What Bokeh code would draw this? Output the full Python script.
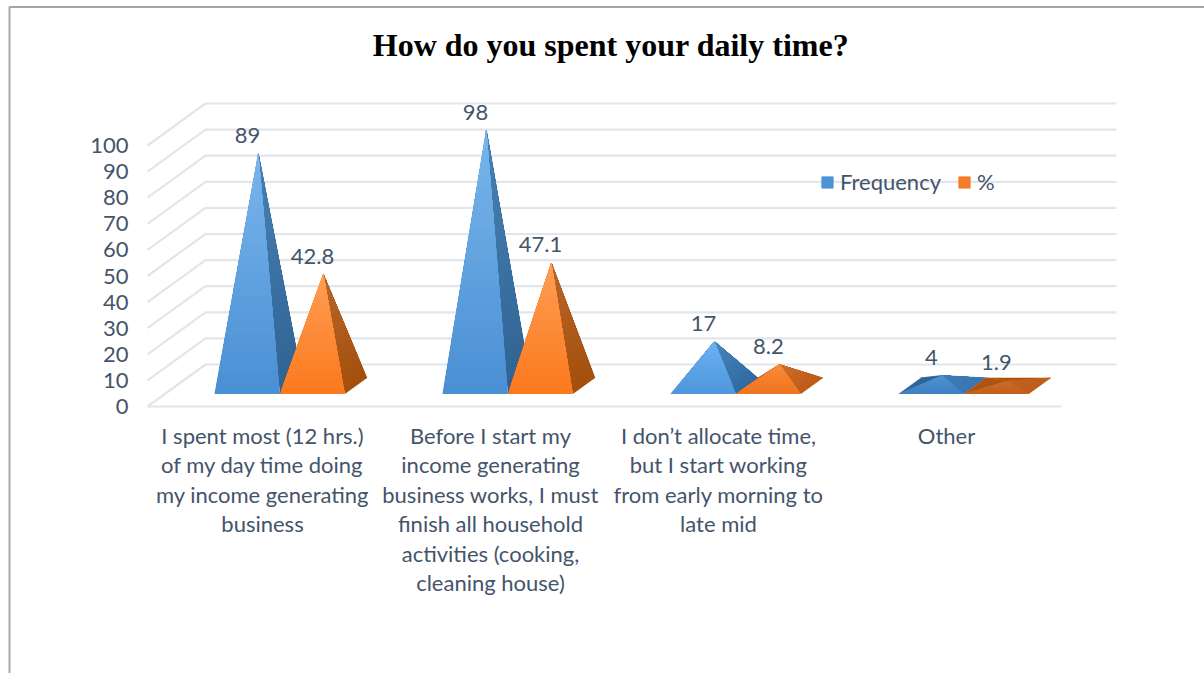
from bokeh.plotting import figure
from bokeh.models import Range1d, FixedTicker, Legend, LegendItem
from bokeh.core.properties import value
from bokeh.embed import file_html
from bokeh.resources import INLINE

TITLE = "How do you spent your daily time?"
categories = [
    "I spent most (12 hrs.)\nof my day time doing\nmy income generating\nbusiness",
    "Before I start my\nincome generating\nbusiness works, I must\nfinish all household\nactivities (cooking,\ncleaning house)",
    "I don\u2019t allocate time,\nbut I start working\nfrom early morning to\nlate mid",
    "Other",
]
frequency = [89, 98, 17, 4]
percent = [42.8, 47.1, 8.2, 1.9]
value_ticks = list(range(0, 101, 10))

W, H = 1204, 673
ORIGIN_PX, BASE_PX = 148, 406      # where category 0 and value 0 sit on the page
UNIT_X, UNIT_Y = 228.0, 2.61       # pixels per category and per value unit
DEPTH_X, DEPTH_Y = 58 / UNIT_X, 42 / UNIT_Y
BAR_W = 65 / UNIT_X
NEAR, FAR = 0.30, 0.68             # depth of a pyramid's base within the floor
INK = "#44546a"
GRID = "#e1e5ec"
FONT = "Lato"
TEXT_SIZE = "22px"


def page_x(px):
    return (px - ORIGIN_PX) / UNIT_X


def page_y(py):
    return (BASE_PX - py) / UNIT_Y


def project(x, v, d):
    return x + d * DEPTH_X, v + d * DEPTH_Y


def hex_mix(a, b, t):
    ca = [int(a[i:i + 2], 16) for i in (1, 3, 5)]
    cb = [int(b[i:i + 2], 16) for i in (1, 3, 5)]
    return "#%02x%02x%02x" % tuple(round(p + (q - p) * t) for p, q in zip(ca, cb))


p = figure(width=W, height=H, output_backend="svg", toolbar_location=None,
           x_range=Range1d(page_x(0), page_x(W)), y_range=Range1d(page_y(H), page_y(0)),
           min_border=0, outline_line_color=None, background_fill_color="white")
p.grid.visible = False

# outer chart border
p.line([page_x(9), page_x(9), page_x(W)], [page_y(H), page_y(6.5), page_y(6.5)],
       line_color="#a6a6a6", line_width=2)

# back wall, side wall and floor lines
for v in value_ticks:
    bx, by = project(page_x(147), v, 1)
    p.line([page_x(147), bx, page_x(1116)], [v, by, by], line_color=GRID, line_width=2.2)
p.line([page_x(147), page_x(1061)], [0, 0], line_color=GRID, line_width=2.2)

# lighting per series: tall pyramids, low pyramids, nearly flat ones
SHADES = {
    "blue": {
        "tall": dict(front=("#4a90d4", "#7ab6ec"), side=("#2f6394", "#4a82b4"), back="#2f6496"),
        "low": dict(front=("#5096dc", "#6ab2f2"), side=("#2f6ba0", "#4a86bd"), back="#2f6496"),
        "flat": dict(front=("#3f80c2", "#4f92d0"), side=("#3a76b0", "#3f7cb6"), back="#2f6496"),
    },
    "orange": {
        "tall": dict(front=("#fb7a1e", "#ff9d55"), side=("#a44f0e", "#b9672a"), back="#a44f0e"),
        "low": dict(front=("#ee741f", "#fb8a38"), side=("#bd5c16", "#cc6f2c"), back="#b05512"),
        "flat": dict(front=("#c2601a", "#cc6c28"), side=("#bf5e1a", "#c4631e"), back="#ad5411"),
    },
}


def band(h):
    return "tall" if h > 30 else ("low" if h > 5 else "flat")


def add_face(a, b, apex, pair, steps=32):
    """Paint a triangular face as nested triangles, giving a vertical gradient without seams."""
    xs, ys, cols = [], [], []
    for i in range(steps):
        t = i / steps
        xs.append([a[0] + (apex[0] - a[0]) * t, b[0] + (apex[0] - b[0]) * t, apex[0]])
        ys.append([a[1] + (apex[1] - a[1]) * t, b[1] + (apex[1] - b[1]) * t, apex[1]])
        cols.append(hex_mix(pair[0], pair[1], t))
    p.patches(xs, ys, fill_color=cols, line_color=None)


label_x, label_y, label_text = [], [], []
for name, values, offset in (("blue", frequency, -BAR_W / 2), ("orange", percent, BAR_W / 2)):
    for i, h in enumerate(values):
        xc = i + 0.5 + offset
        shade = SHADES[name][band(h)]
        fl = project(xc - BAR_W / 2, 0, NEAR)
        fr = project(xc + BAR_W / 2, 0, NEAR)
        bl = project(xc - BAR_W / 2, 0, FAR)
        br = project(xc + BAR_W / 2, 0, FAR)
        apex = project(xc, h, (NEAR + FAR) / 2)
        # back and left faces only show on pyramids flat enough to be seen from above
        p.patch([bl[0], br[0], apex[0]], [bl[1], br[1], apex[1]],
                fill_color=shade["back"], line_color=shade["back"], line_width=0.5)
        p.patch([fl[0], bl[0], apex[0]], [fl[1], bl[1], apex[1]],
                fill_color=shade["back"], line_color=shade["back"], line_width=0.5)
        add_face(fr, br, apex, shade["side"])
        add_face(fl, fr, apex, shade["front"])
        label_x.append(project(xc, 0, NEAR)[0])
        label_y.append(apex[1])
        label_text.append(str(h))

p.text(label_x, label_y, text=label_text, y_offset=-18, text_align="center", text_baseline="middle",
       text_color=INK, text_font=value(FONT), text_font_size=TEXT_SIZE)

p.text([page_x(610.5)], [page_y(44)], text=[TITLE], text_align="center", text_baseline="middle",
       text_color="black", text_font=value("Liberation Serif"), text_font_style="bold",
       text_font_size="32px")

# axes drawn on the front plane of the box
p.yaxis.fixed_location = page_x(147)
p.yaxis.ticker = FixedTicker(ticks=value_ticks)
p.yaxis.axis_line_color = None
p.yaxis.major_tick_line_color = None
p.yaxis.minor_tick_line_color = None
p.yaxis.major_label_standoff = 13
p.yaxis.major_label_text_color = INK
p.yaxis.major_label_text_font = FONT
p.yaxis.major_label_text_font_size = TEXT_SIZE

p.xaxis.fixed_location = 0
p.xaxis.ticker = FixedTicker(ticks=[0.5, 1.5, 2.5, 3.5])
p.xaxis.major_label_overrides = {i + 0.5: c for i, c in enumerate(categories)}
p.xaxis.axis_line_color = None
p.xaxis.major_tick_line_color = None
p.xaxis.minor_tick_line_color = None
p.xaxis.major_label_standoff = 9
p.xaxis.major_label_text_color = INK
p.xaxis.major_label_text_font = FONT
p.xaxis.major_label_text_font_size = TEXT_SIZE
p.xaxis.major_label_text_line_height = 1.095

# legend swatches
nan = float("nan")
sw_blue = p.quad(left=[nan], right=[nan], top=[nan], bottom=[nan], color="#4d93d6")
sw_orange = p.quad(left=[nan], right=[nan], top=[nan], bottom=[nan], color="#f57c2a")
legend = Legend(items=[LegendItem(label="Frequency", renderers=[sw_blue]),
                       LegendItem(label="%", renderers=[sw_orange])],
                location=(820, 478), orientation="horizontal", background_fill_alpha=0,
                border_line_color=None, glyph_width=14, glyph_height=14, spacing=16,
                label_standoff=6, label_text_color=INK, label_text_font=FONT,
                label_text_font_size=TEXT_SIZE, padding=0, margin=0)
p.add_layout(legend, "center")

open("out.html", "w").write(file_html(p, INLINE))
